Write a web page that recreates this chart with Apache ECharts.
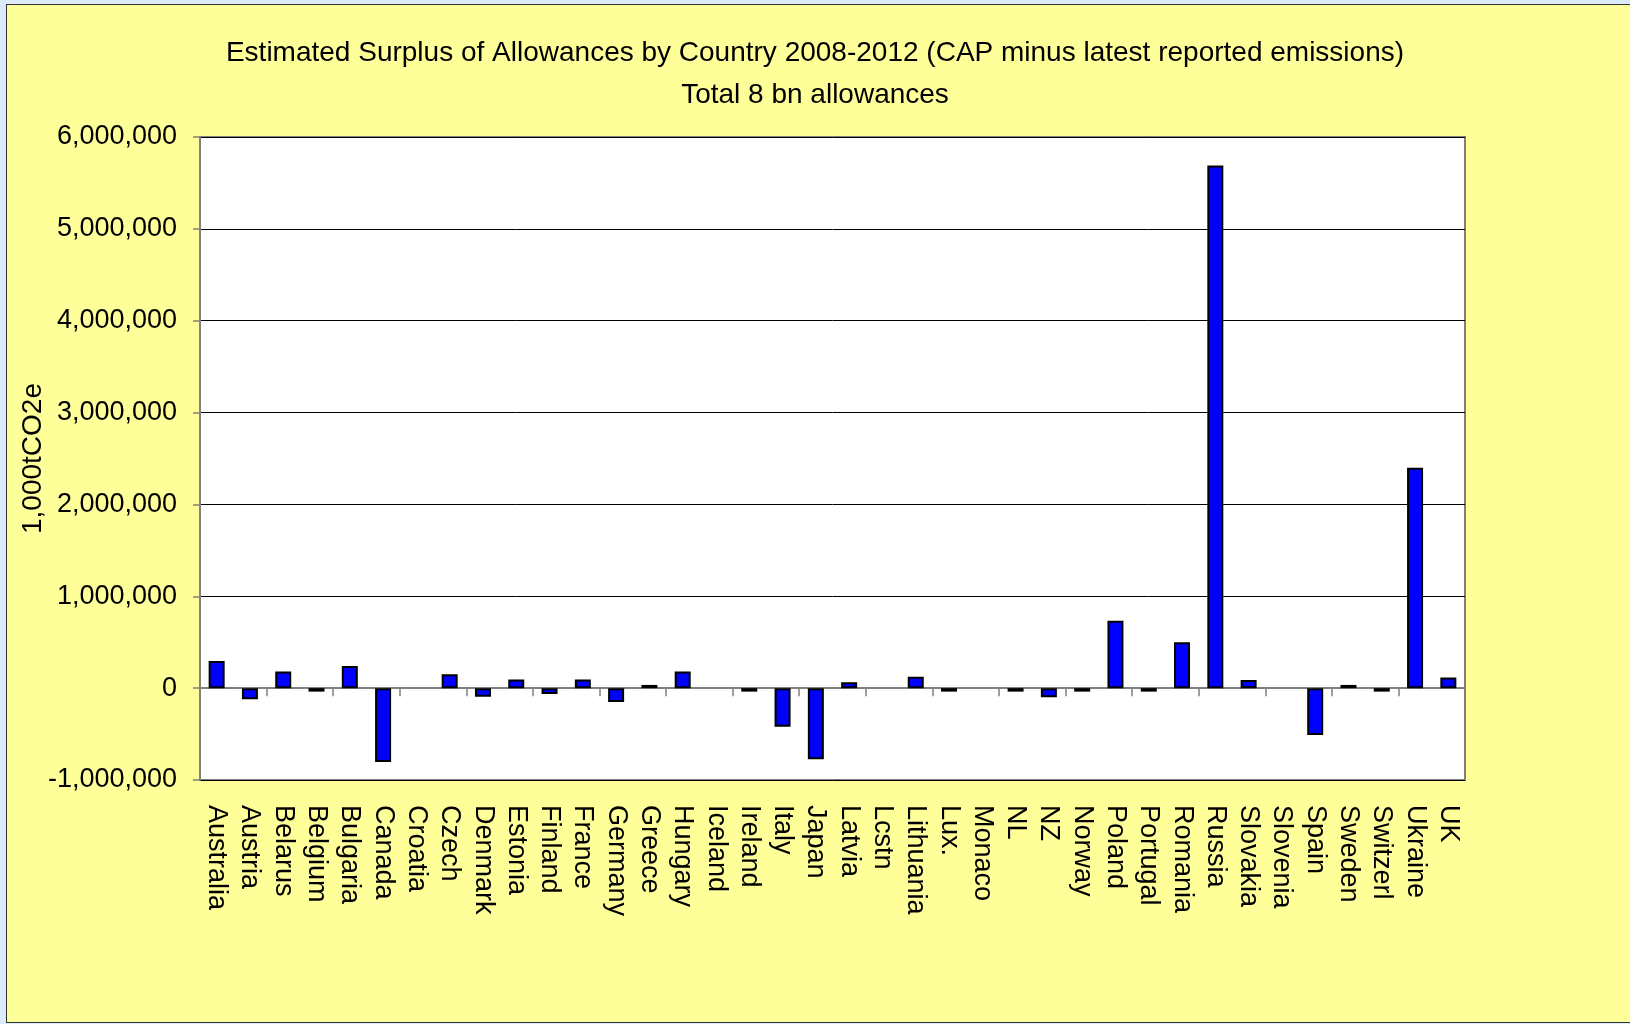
<!DOCTYPE html>
<html>
<head>
<meta charset="utf-8">
<script src="https://cdn.jsdelivr.net/npm/echarts@6/dist/echarts.min.js"></script>
<style>
  html, body { margin: 0; padding: 0; background: #dcebfb; }
  #panel { position: absolute; left: 6px; top: 4px; width: 1630px; height: 1017px;
           background: #ffff99; border: 1px solid #333; }
  #chart { position: absolute; left: 0; top: 0; width: 1630px; height: 1024px; }
</style>
</head>
<body>
<div id="panel"></div>
<div id="chart"></div>
<script>
var countries = ['Australia', 'Austria', 'Belarus', 'Belgium', 'Bulgaria', 'Canada', 'Croatia',
  'Czech', 'Denmark', 'Estonia', 'Finland', 'France', 'Germany', 'Greece', 'Hungary', 'Iceland',
  'Ireland', 'Italy', 'Japan', 'Latvia', 'Lcstn', 'Lithuania', 'Lux.', 'Monaco', 'NL', 'NZ',
  'Norway', 'Poland', 'Portugal', 'Romania', 'Russia', 'Slovakia', 'Slovenia', 'Spain', 'Sweden',
  'Switzerl', 'Ukraine', 'UK'];

// 1,000 tCO2e, null = no bar drawn
var surplus = [295000, -120000, 180000, -38000, 240000, -805000, null,
  150000, -95000, 95000, -65000, 95000, -150000, 35000, 180000, null,
  -38000, -420000, -775000, 65000, null, 125000, -38000, null, -38000, -98000,
  -38000, 735000, -38000, 500000, 5690000, 88000, null, -510000, 35000,
  -38000, 2400000, 115000];

var yTicks = { min: -1000000, max: 6000000, step: 1000000 };

var titleLines = ['Estimated Surplus of Allowances by Country 2008-2012 (CAP minus latest reported emissions)',
  'Total 8 bn allowances'];
var yName = '1,000tCO2e';

var chart = echarts.init(document.getElementById('chart'));
var font = '"Liberation Sans", Arial, sans-serif';

var option = {
  animation: false,
  title: {
    text: titleLines.join('\n'),
    left: 'center',
    top: 27,
    textStyle: { fontFamily: font, fontSize: 28, fontWeight: 'normal', color: '#000', lineHeight: 42 }
  },
  grid: {
    left: 200, right: 165, top: 137, bottom: 244,
    show: true, backgroundColor: '#fff', borderColor: '#808080', borderWidth: 2
  },
  xAxis: [{
    type: 'category',
    data: countries,
    position: 'bottom',
    axisLine: { show: false, onZero: false },
    axisTick: { show: false },
    axisLabel: { rotate: -90, margin: 25, interval: 0, fontFamily: font, fontSize: 27, color: '#000' }
  }, {
    type: 'category',
    data: countries,
    position: 'top',
    axisLine: { show: true, onZero: true, lineStyle: { color: '#808080', width: 2 } },
    axisTick: { show: true, inside: true, length: 8, lineStyle: { color: '#808080', width: 1.5 } },
    axisLabel: { show: false }
  }],
  yAxis: {
    type: 'value',
    min: yTicks.min, max: yTicks.max, interval: yTicks.step,
    name: yName,
    nameLocation: 'middle',
    nameGap: 153,
    nameMoveOverlap: false,
    nameTextStyle: { fontFamily: font, fontSize: 28, color: '#000' },
    axisLine: { show: true, lineStyle: { color: '#808080', width: 2 } },
    axisTick: { show: true, length: 7, lineStyle: { color: '#808080', width: 1.5 } },
    axisLabel: {
      margin: 23, fontFamily: font, fontSize: 27, color: '#000',
      formatter: function (v) { return v.toLocaleString('en-US'); }
    },
    splitLine: { show: true, lineStyle: { color: '#000', width: 1 } }
  },
  series: [{
    type: 'bar',
    xAxisIndex: 0,
    data: surplus,
    barWidth: 16,
    itemStyle: { color: '#0000ff', borderColor: '#000', borderWidth: 2 }
  }]
};
chart.setOption(option);
</script>
</body>
</html>
